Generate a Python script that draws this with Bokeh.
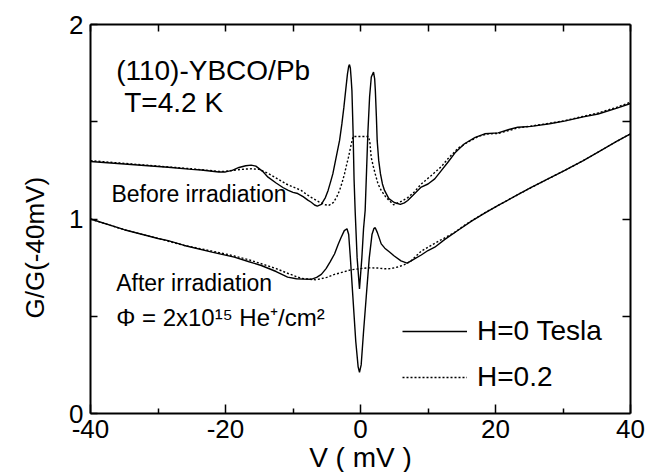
import math
from bokeh.plotting import figure
from bokeh.models import (Range1d, LinearAxis, FixedTicker, Label, Legend, LegendItem, Title,
                          CustomJSTickFormatter)
from bokeh.embed import file_html
from bokeh.resources import INLINE

# ---- data ----
v_before_h0 = [-40, -35, -30, -28.5, -25, -23.6, -21, -20, -19, -18, -17, -16.2, -15.5, -14.5, -13.7,
               -12.5, -11.5, -10.7, -10, -9.3, -8.5, -7.8, -7.3, -6.8, -6.4, -5.8, -5.2, -4.8, -4.4,
               -4.1, -3.6, -3.1, -2.76, -2.46, -2.2, -1.93, -1.75, -1.63, -1.5, -1.38, -1.27, -1.1,
               -0.95, -0.79, -0.5, -0.15, 0.2, 0.45, 0.69, 0.9, 1.1, 1.35, 1.6, 1.93, 2.1, 2.2, 2.35,
               2.47, 2.7, 2.96, 3.25, 3.56, 4.2, 5.0, 5.9, 6.5, 7.0, 8.0, 9.0, 10.0, 11.0, 12.0,
               12.95, 14.0, 15.4, 17.0, 18.4, 20.4, 22.0, 23.3, 25.3, 28.0, 30.2, 33.0, 35.2, 38.0, 40.0]
g_before_h0 = [1.296, 1.283, 1.270, 1.266, 1.255, 1.252, 1.242, 1.242, 1.250, 1.265, 1.274, 1.277, 1.272,
               1.245, 1.215, 1.185, 1.162, 1.147, 1.137, 1.131, 1.115, 1.097, 1.086, 1.072, 1.066, 1.075,
               1.110, 1.147, 1.195, 1.232, 1.318, 1.404, 1.489, 1.575, 1.660, 1.746, 1.785, 1.794, 1.775,
               1.720, 1.660, 1.450, 1.200, 1.040, 0.800, 0.641, 0.800, 0.950, 1.044, 1.250, 1.450, 1.630,
               1.730, 1.755, 1.720, 1.660, 1.530, 1.404, 1.300, 1.232, 1.180, 1.147, 1.105, 1.085, 1.075,
               1.083, 1.095, 1.130, 1.164, 1.180, 1.206, 1.250, 1.292, 1.340, 1.387, 1.420, 1.438, 1.443,
               1.460, 1.472, 1.476, 1.490, 1.503, 1.525, 1.540, 1.570, 1.594]

v_before_h02 = [-40, -30, -25, -21, -20, -18.5, -17, -16.2, -15, -13.7, -12.7, -11, -10, -8.8, -7.5, -6.1,
                -5.2, -4.7, -4.0, -3.5, -3.1, -2.7, -2.37, -2.05, -1.78, -1.4, -1.1, 1.2, 1.4, 1.58, 1.9,
                2.18, 2.6, 3.07, 3.8, 4.9, 6.0, 7.0, 8.0, 9.0, 10.5, 12.0, 12.95, 14.5, 15.9, 17.5, 18.9,
                20.4, 22.0, 23.3, 25.3, 28.0, 30.2, 33.0, 35.2, 38.0, 40.0]
g_before_h02 = [1.300, 1.272, 1.258, 1.245, 1.245, 1.252, 1.257, 1.258, 1.255, 1.235, 1.215, 1.180, 1.165,
                1.147, 1.115, 1.087, 1.073, 1.070, 1.085, 1.115, 1.147, 1.190, 1.232, 1.280, 1.318, 1.380,
                1.424, 1.424, 1.390, 1.318, 1.270, 1.232, 1.180, 1.147, 1.110, 1.073, 1.090, 1.110, 1.140,
                1.180, 1.224, 1.270, 1.310, 1.365, 1.395, 1.425, 1.438, 1.440, 1.455, 1.468, 1.478, 1.492,
                1.505, 1.528, 1.545, 1.575, 1.600]

v_after_h0 = [-40, -35, -30, -28.5, -26.1, -22, -18.7, -16.5, -14.7, -12.5, -10.8, -9.5, -8.5, -7.3, -6.5,
              -5.8, -5.1, -4.5, -3.85, -3.3, -2.86, -2.4, -2.0, -1.75, -1.5, -1.13, -0.7, -0.35, -0.15,
              0.1, 0.45, 0.85, 1.3, 1.7, 2.0, 2.18, 2.5, 3.07, 3.6, 4.3, 5.0, 6.0, 6.9, 7.5, 8.0, 9.0,
              10.0, 11.0, 12.5, 14.4, 16.5, 18.4, 20.4, 23.3, 25.3, 28.0, 30.2, 33.0, 35.2, 38.0, 40.0]
g_after_h0 = [1.000, 0.945, 0.900, 0.889, 0.864, 0.830, 0.804, 0.780, 0.761, 0.730, 0.701, 0.693, 0.691,
              0.690, 0.700, 0.715, 0.745, 0.780, 0.820, 0.870, 0.906, 0.940, 0.950, 0.920, 0.800, 0.600,
              0.370, 0.240, 0.212, 0.250, 0.420, 0.600, 0.800, 0.920, 0.952, 0.955, 0.930, 0.872, 0.850,
              0.830, 0.810, 0.785, 0.773, 0.785, 0.795, 0.815, 0.838, 0.855, 0.895, 0.941, 0.990, 1.030,
              1.070, 1.125, 1.162, 1.210, 1.249, 1.300, 1.344, 1.400, 1.438]

v_after_h02 = [-40, -35, -30, -26.1, -22, -18.7, -16.5, -14.7, -12.5, -10.8, -8.8, -6.6, -5.0, -3.85, -2.5,
               -1.4, 0.0, 1.1, 2.5, 3.6, 4.5, 5.5, 6.5, 7.5, 9.0, 11.0, 13.9, 15.5, 18.4, 20.4, 23.3,
               25.3, 28.0, 30.2, 33.0, 35.2, 38.0, 40.0]
g_after_h02 = [1.000, 0.945, 0.900, 0.864, 0.835, 0.810, 0.790, 0.770, 0.745, 0.721, 0.695, 0.687, 0.700,
               0.715, 0.728, 0.739, 0.745, 0.749, 0.748, 0.744, 0.745, 0.753, 0.765, 0.785, 0.835, 0.875,
               0.930, 0.970, 1.032, 1.070, 1.125, 1.162, 1.210, 1.249, 1.300, 1.344, 1.400, 1.438]

x_major = [-40, -20, 0, 20, 40]
x_minor = [-30, -10, 10, 30]
y_major = [0, 1, 2]
y_minor = [0.5, 1.5]

FONT = "Liberation Sans"

p = figure(frame_width=540, frame_height=389, x_range=Range1d(-40, 40), y_range=Range1d(0, 2),
           output_backend="svg", toolbar_location=None, x_axis_location=None, y_axis_location=None,
           min_border_left=89, min_border_right=28, min_border_top=24, min_border_bottom=57)
p.outline_line_color = None
p.xgrid.visible = False
p.ygrid.visible = False
p.background_fill_color = "white"
p.border_fill_color = "white"

plain = CustomJSTickFormatter(code="return String(tick);")
blank = CustomJSTickFormatter(code="return '';")


def style_axis(ax, tick_in, minor_in, labels=True, standoff=5):
    ax.axis_line_width = 2
    ax.axis_line_color = "black"
    ax.major_tick_in = tick_in
    ax.major_tick_out = 0
    ax.minor_tick_in = minor_in
    ax.minor_tick_out = 0
    ax.major_tick_line_width = 1.5
    ax.minor_tick_line_width = 1.5
    ax.major_label_text_font = FONT
    ax.major_label_text_color = "black"
    ax.major_label_text_font_size = "26px"
    ax.major_label_standoff = standoff
    ax.formatter = plain if labels else blank
    if not labels:
        ax.major_label_standoff = 0


xb = LinearAxis(ticker=FixedTicker(ticks=x_major, minor_ticks=x_minor))
style_axis(xb, 9, 5, True, 6)
xb.axis_label = "V ( mV )"
xb.axis_label_text_font = FONT
xb.axis_label_text_font_size = "28px"
xb.axis_label_text_font_style = "normal"
xb.axis_label_text_color = "black"
xb.axis_label_standoff = 1
p.add_layout(xb, "below")

yl = LinearAxis(ticker=FixedTicker(ticks=y_major, minor_ticks=y_minor))
style_axis(yl, 7, 7, True, 7)
p.add_layout(yl, "left")

xt = LinearAxis(ticker=FixedTicker(ticks=x_major + x_minor, minor_ticks=[]))
style_axis(xt, 7, 0, False)
p.add_layout(xt, "above")

yr = LinearAxis(ticker=FixedTicker(ticks=y_minor + [1], minor_ticks=[]))
style_axis(yr, 8, 0, False)
p.add_layout(yr, "right")

ytitle = Title(text="G/G(-40mV)", align="left", offset=95, standoff=34,
               text_font=FONT, text_font_size="26px", text_font_style="normal", text_color="black")
p.add_layout(ytitle, "left")

LW = 1.4
r1 = p.line(v_before_h0, g_before_h0, line_color="black", line_width=LW)
r2 = p.line(v_before_h02, g_before_h02, line_color="black", line_width=LW, line_dash="2 2")
p.line(v_after_h0, g_after_h0, line_color="black", line_width=LW)
p.line(v_after_h02, g_after_h02, line_color="black", line_width=LW, line_dash="2 2")

legend = Legend(items=[LegendItem(label="H=0 Tesla", renderers=[r1]),
                       LegendItem(label="H=0.2", renderers=[r2])],
                location=(312, 16), glyph_width=65, glyph_height=40, label_height=40,
                spacing=6, padding=0, margin=0, label_standoff=10,
                label_text_font=FONT, label_text_font_size="28px", label_text_color="black",
                border_line_color=None, background_fill_alpha=0)
p.add_layout(legend, "center")


def add_text(x, y, t, size):
    p.add_layout(Label(x=x, y=y, text=t, text_font=FONT, text_font_size=size, text_color="black",
                       text_align="left", text_baseline="middle"))


add_text(-36.2, 1.766, "(110)-YBCO/Pb", "28px")
add_text(-35.0, 1.60, "T=4.2 K", "28px")
add_text(-36.9, 1.126, "Before irradiation", "23px")
add_text(-36.2, 0.669, "After irradiation", "23px")
add_text(-36.2, 0.495, "\u03a6 = 2x10\u00b9\u2075 He\u207a/cm\u00b2", "24px")

open("out.html", "w").write(file_html(p, INLINE))
